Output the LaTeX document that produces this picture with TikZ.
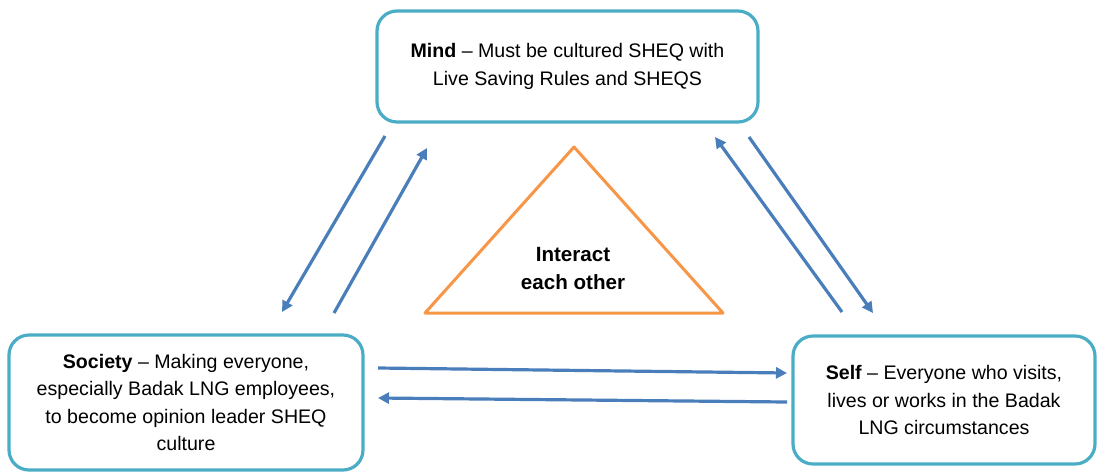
\documentclass[tikz,border=0pt]{standalone}
\usepackage{fontspec}
\setmainfont{Liberation Sans}
\usetikzlibrary{arrows.meta}

\definecolor{boxteal}{HTML}{4BACC6}
\definecolor{arrowblue}{HTML}{4A7EBB}
\definecolor{triorange}{HTML}{F79646}

\begin{document}
\begin{tikzpicture}[x=0.5pt, y=-0.5pt,
    box/.style={draw=boxteal, line width=1.6pt, rounded corners=10pt, align=center,
      font=\fontsize{9.8}{13.6}\selectfont},
    link/.style={draw=arrowblue, line width=1.6pt, -{Triangle[length=5.5pt,width=5.5pt]}}]

    \useasboundingbox (0,0) rectangle (1097,472);

    % Boxes
    \node[box, minimum width=190.5pt, minimum height=55.5pt] (mind) at (567.5,66.5)
      {\textbf{Mind} – Must be cultured SHEQ with\\Live Saving Rules and SHEQS};
    \node[box, minimum width=177pt, minimum height=67.5pt] (society) at (186,402.5)
      {\textbf{Society} – Making everyone,\\especially Badak LNG employees,\\to become opinion leader SHEQ\\culture};
    \node[box, minimum width=151pt, minimum height=64pt] (self) at (944,400)
      {\textbf{Self} – Everyone who visits,\\lives or works in the Badak\\LNG circumstances};

    % Triangle in the middle
    \coordinate (apex) at (574,147);
    \coordinate (baseL) at (425,313);
    \coordinate (baseR) at (723,313);
    \draw[triorange, line width=1.5pt, line join=round] (apex) -- (baseL) -- (baseR) -- cycle;
    \node[align=center, font=\fontsize{10.3}{14}\selectfont\bfseries] (interact) at (573,269)
      {Interact\\each other};

    % Arrow ends
    \coordinate (ms1) at (385,136);  \coordinate (ms2) at (282,312);
    \coordinate (sm1) at (334,313);  \coordinate (sm2) at (427,148);
    \coordinate (fm1) at (842,312);  \coordinate (fm2) at (715,137);
    \coordinate (mf1) at (749,137);  \coordinate (mf2) at (873,313);
    \coordinate (sf1) at (378,368);  \coordinate (sf2) at (787,373);
    \coordinate (fs1) at (787,402);  \coordinate (fs2) at (378,398);

    % Arrows
    \draw[link] (ms1) -- (ms2);
    \draw[link] (sm1) -- (sm2);
    \draw[link] (fm1) -- (fm2);
    \draw[link] (mf1) -- (mf2);
    \draw[link] (sf1) -- (sf2);
    \draw[link] (fs1) -- (fs2);
\end{tikzpicture}
\end{document}
